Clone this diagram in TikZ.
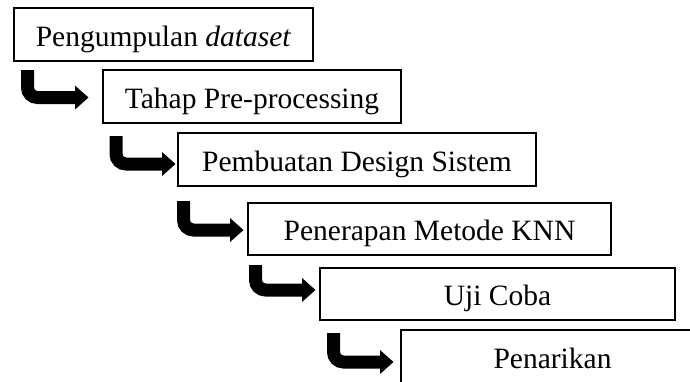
\documentclass[tikz,border=0pt]{standalone}
\usepackage{fontspec}
\setmainfont{Liberation Serif}
\begin{document}
\begin{tikzpicture}[x=1pt,y=-1pt,
  stepbox/.style={draw=black, line width=2pt, inner sep=0pt, anchor=north west,
    text height=23pt, text depth=0pt, font=\fontsize{29.5}{34}\selectfont},
  shaft/.style={line width=13pt, rounded corners=10pt, line cap=butt}]
\clip (0,0) rectangle (690,381);
\fill[white] (0,0) rectangle (690,381);

% process steps
\node[stepbox, minimum width=299pt, minimum height=53pt] (b1) at (13,7) {Pengumpulan \textit{dataset}};
\node[stepbox, minimum width=298pt, minimum height=53pt] (b2) at (102,69) {Tahap Pre-processing};
\node[stepbox, minimum width=358pt, minimum height=53pt] (b3) at (177,132) {Pembuatan Design Sistem};
\node[stepbox, minimum width=363pt, minimum height=52pt] (b4) at (247,202) {Penerapan Metode KNN};
\node[stepbox, minimum width=355pt, minimum height=52pt] (b5) at (319,267) {Uji Coba};
\node[stepbox, minimum width=303pt, minimum height=53pt] (b6) at (400,329) {Penarikan};

% bent arrows between consecutive steps: start of shaft and base of head
\coordinate (s1) at (27.5,70);  \coordinate (h1) at (75,97.5);
\coordinate (s2) at (116,136);  \coordinate (h2) at (162,164);
\coordinate (s3) at (183.5,201);\coordinate (h3) at (230,230);
\coordinate (s4) at (255.5,265);\coordinate (h4) at (302,290);
\coordinate (s5) at (333.5,333);\coordinate (h5) at (380,362);

\foreach \i in {1,...,5}{
  \draw[shaft] (s\i) |- ([xshift=1pt]h\i);
  \fill (h\i) ++(0,-12) -- ++(13.5,12) -- ++(-13.5,12) -- cycle;
}
\end{tikzpicture}
\end{document}
